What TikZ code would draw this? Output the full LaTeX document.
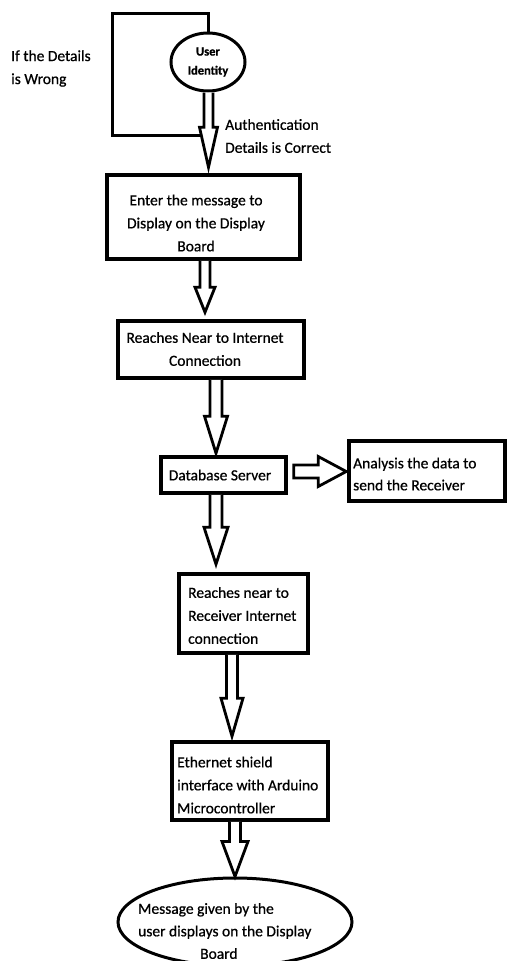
\documentclass[tikz,border=0pt]{standalone}
\usepackage{fontspec}
\setmainfont{Carlito}[FakeBold=0.7]
\usetikzlibrary{shapes.geometric,calc}
% vertical block arrow: from, to, x, half shaft, half head, head length, gap at tip
\newcommand{\vblock}[7]{%
  \draw[blk] let \p1=(#1.south), \p2=(#2.north) in
    (#3pt-#4pt,\y1) -- (#3pt-#4pt,\y2+#7pt+#6pt) -- (#3pt-#5pt,\y2+#7pt+#6pt)
    -- (#3pt,\y2+#7pt) -- (#3pt+#5pt,\y2+#7pt+#6pt) -- (#3pt+#4pt,\y2+#7pt+#6pt)
    -- (#3pt+#4pt,\y1);}
% horizontal block arrow: from, to, y, half shaft, half head, head length, start gap, end gap
\newcommand{\hblock}[8]{%
  \draw[blk] let \p1=(#1.east), \p2=(#2.west) in
    (\x1+#7pt,-#3pt+#4pt) -- (\x2-#8pt-#6pt,-#3pt+#4pt) -- (\x2-#8pt-#6pt,-#3pt+#5pt)
    -- (\x2-#8pt,-#3pt) -- (\x2-#8pt-#6pt,-#3pt-#5pt) -- (\x2-#8pt-#6pt,-#3pt-#4pt)
    -- (\x1+#7pt,-#3pt-#4pt) -- cycle;}
\begin{document}
\begin{tikzpicture}[x=1pt,y=-1pt,
  box/.style={draw,line width=3.5pt,rectangle,inner sep=0pt},
  oval/.style={draw,line width=3pt,ellipse,inner sep=0pt},
  blk/.style={draw,line width=2.8pt,fill=white},
  loopline/.style={draw,line width=3pt},
  txt/.style={inner sep=0pt,font=\fontsize{15.5}{23}\selectfont},
  small/.style={inner sep=0pt,font=\bfseries\fontsize{12.5}{19}\selectfont}]
\useasboundingbox (0,0) rectangle (508,961);
\fill[white] (0,0) rectangle (508,961);

% nodes
\node[oval,minimum width=74pt,minimum height=58pt,small,align=center] (ui) at (208,62) {User\\Identity};
\node[box,minimum width=193pt,minimum height=84pt] (b1) at (203.5,217) {};
\node[box,minimum width=186pt,minimum height=57pt] (b2) at (211,349.5) {};
\node[box,minimum width=125pt,minimum height=36pt] (b3) at (223.5,475) {};
\node[box,minimum width=156pt,minimum height=60pt] (an) at (427,471) {};
\node[box,minimum width=129pt,minimum height=79pt] (b5) at (243.5,613.5) {};
\node[box,minimum width=156pt,minimum height=78pt] (b6) at (250,781) {};
\node[oval,minimum width=234pt,minimum height=88pt] (fin) at (235,922) {};

% texts
\node[txt,align=left,anchor=west] (wrong) at (11,68.5) {If the Details\\is Wrong};
\node[txt,align=left,anchor=west] (correct) at (225,136) {Authentication\\Details is Correct};
\node[txt,align=center] (t1) at (196,223) {Enter the message to\\Display on the Display\\Board};
\node[txt,align=center] (t2) at (205,349) {Reaches Near to Internet\\Connection};
\node[txt] (t3) at (220,475) {Database Server};
\node[txt,align=left,anchor=west,font=\fontsize{15.5}{22}\selectfont] (t4) at (353,474) {Analysis the data to\\send the Receiver};
\node[txt,align=left,anchor=west] (t5) at (188,615.5) {Reaches near to\\Receiver Internet\\connection};
\node[txt,align=left,anchor=west] (t6) at (177,785) {Ethernet shield\\interface with Arduino\\Microcontroller};
\node[txt,align=left,anchor=west,font=\fontsize{15.5}{22.5}\selectfont] (t7) at (138,931) {Message given by the\\user displays on the Display\\\hspace*{62pt}Board};

% loop for wrong details
\coordinate (lp1) at (112,13);
\coordinate (lp2) at (112,135);
\coordinate (lpEnd) at (204,135);
\draw[loopline] (ui.north) |- (lp1) -- (lp2) -- (lpEnd);

% block arrows
\vblock{ui}{b1}{208.5}{4.5}{9}{40}{6}
\vblock{b1}{b2}{205}{5}{10}{25}{7}
\vblock{b2}{b3}{216}{6}{11.5}{37}{2}
\vblock{b3}{b5}{216}{6}{12}{37}{8}
\vblock{b5}{b6}{232}{5.5}{11}{38}{4}
\vblock{b6}{fin}{235}{5.5}{13}{35}{0}
\hblock{b3}{an}{471.5}{6.5}{15}{28}{6}{1}
\end{tikzpicture}
\end{document}
